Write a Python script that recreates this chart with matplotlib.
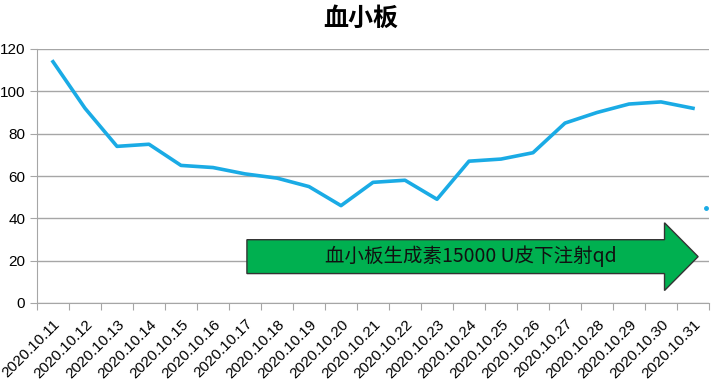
import matplotlib.pyplot as plt
from matplotlib.patches import FancyArrow
import numpy as np

plt.rcParams['font.family'] = ['Liberation Sans', 'Noto Sans CJK SC', 'DejaVu Sans']

dates = ['2020.10.%d' % d for d in range(11, 32)]
platelet = [114, 92, 74, 75, 65, 64, 61, 59, 55, 46, 57, 58, 49, 67, 68, 71, 85, 90, 94, 95, 92]
stray_value = 45
arrow_text = '血小板生成素15000 U皮下注射qd'

fig = plt.figure(figsize=(7.14, 3.86), dpi=100)
ax = fig.add_axes([37 / 714, 1 - 303 / 386, 672 / 714, 254 / 386])

x = np.arange(len(dates))
ax.plot(x, platelet, color='#1AABE5', lw=2.6, solid_joinstyle='round', zorder=3)
ax.plot([len(dates) - 0.6], [stray_value], 'o', color='#1AABE5', ms=2.5, zorder=3, clip_on=False)

ax.set_xlim(-0.5, len(dates) - 0.5)
ax.set_ylim(0, 120)
ax.set_yticks(range(0, 121, 20))
ax.yaxis.grid(True, color='#A6A6A6', lw=1)
ax.set_axisbelow(True)

ax.set_xticks(np.arange(-0.5, len(dates)), labels=[''] * (len(dates) + 1))
ax.set_xticks(x, labels=dates, minor=True)
ax.tick_params(axis='x', which='minor', length=0, pad=10)
ax.tick_params(axis='x', which='major', length=5, color='#A6A6A6')
ax.tick_params(axis='y', length=5, color='#A6A6A6', labelsize=11)
for lab in ax.get_xticklabels(minor=True):
    lab.set_rotation(45)
    lab.set_ha('right')
    lab.set_rotation_mode('anchor')
    lab.set_fontsize(11)

for s in ['top', 'right']:
    ax.spines[s].set_visible(False)
for s in ['left', 'bottom']:
    ax.spines[s].set_color('#A6A6A6')

arr = FancyArrow(6.06, 21.9, 14.1, 0, width=16, head_width=32, head_length=1.05,
                 length_includes_head=True, facecolor='#00B050', edgecolor='#333333',
                 lw=1, zorder=4)
ax.add_patch(arr)
ax.text(13.05, 21.9, arrow_text, ha='center', va='center', fontsize=14,
        family=['Noto Sans CJK SC', 'DejaVu Sans'], color='#111111', zorder=5)

fig.text(0.505, 0.952, '血小板', ha='center', va='center', fontsize=18, fontweight='bold',
         family=['Noto Sans CJK SC', 'DejaVu Sans'])

fig.savefig('out.png', dpi=100)
